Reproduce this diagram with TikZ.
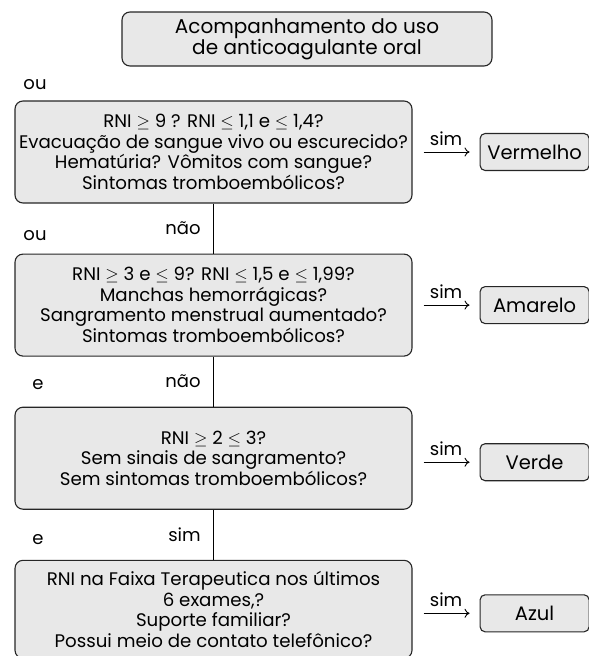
\documentclass[tikz,border=0pt]{standalone}
\usepackage{fontspec}
\setmainfont{Poppins}
\usetikzlibrary{positioning,arrows.meta}

\tikzset{
  boxline/.style={draw=black!85, line width=1.1pt, fill=black!9},
  question/.style={boxline, rounded corners=8pt, align=center,
    minimum width=397pt, minimum height=102pt, inner sep=2pt,
    font=\fontsize{18.2}{20.5}\selectfont},
  colourbox/.style={boxline, rounded corners=5pt,
    minimum width=109pt, minimum height=37pt, inner sep=2pt,
    font=\fontsize{19.5}{21}\selectfont},
  small/.style={font=\fontsize{18}{20}\selectfont},
  simarrow/.style={-{To[length=5pt,width=9pt]}, line width=0.9pt,
    shorten <=11pt, shorten >=10pt}
}

\begin{document}
\begin{tikzpicture}[x=1pt,y=-1pt]
  \useasboundingbox (0,0) rectangle (589,656);

  \node[boxline, rounded corners=8pt, align=center, minimum width=370pt,
    minimum height=54pt, font=\fontsize{20}{21}\selectfont] (top) at (307,39)
    {Acompanhamento do uso\\de anticoagulante oral};

  \node[question] (b1) at (213.5,152)
    {RNI $\geq$ 9 ? RNI $\leq$ 1,1 e $\leq$ 1,4?\\
     Evacuação de sangue vivo ou escurecido?\\
     Hematúria? Vômitos com sangue?\\
     Sintomas tromboembólicos?};
  \node[question, below=50pt of b1] (b2)
    {RNI $\geq$ 3 e $\leq$ 9? RNI $\leq$ 1,5 e $\leq$ 1,99?\\
     Manchas hemorrágicas?\\
     Sangramento menstrual aumentado?\\
     Sintomas tromboembólicos?};
  \node[question, below=50pt of b2] (b3)
    {RNI $\geq$ 2 $\leq$ 3?\\
     Sem sinais de sangramento?\\
     Sem sintomas tromboembólicos?};
  \node[question, minimum height=98pt, below=50pt of b3] (b4)
    {RNI na Faixa Terapeutica nos últimos\\
     6 exames,?\\
     Suporte familiar?\\
     Possui meio de contato telefônico?};

  % result colours
  \node[colourbox, right=67pt of b1] (r1) {Vermelho};
  \node[colourbox, right=67pt of b2] (r2) {Amarelo};
  \node[colourbox, right=67pt of b3, yshift=-4pt] (r3) {Verde};
  \node[colourbox, right=67pt of b4, yshift=-4pt] (r4) {Azul};

  \foreach \i in {1,...,4}
    \draw[simarrow] (b\i.east |- r\i.west) -- node[small, above=3pt] {sim} (r\i.west);

  % links between the questions
  \foreach \a/\b/\ans in {1/2/não, 2/3/não, 3/4/sim}
    \draw[line width=1.1pt] (b\a.south) -- node[small, left=9pt] {\ans} (b\b.north);

  \node[small] (ou1) at (35,85) {ou};
  \node[small] (ou2) at (35,236) {ou};
  \node[small] (e1) at (38,385) {e};
  \node[small] (e2) at (38,540) {e};
\end{tikzpicture}
\end{document}
